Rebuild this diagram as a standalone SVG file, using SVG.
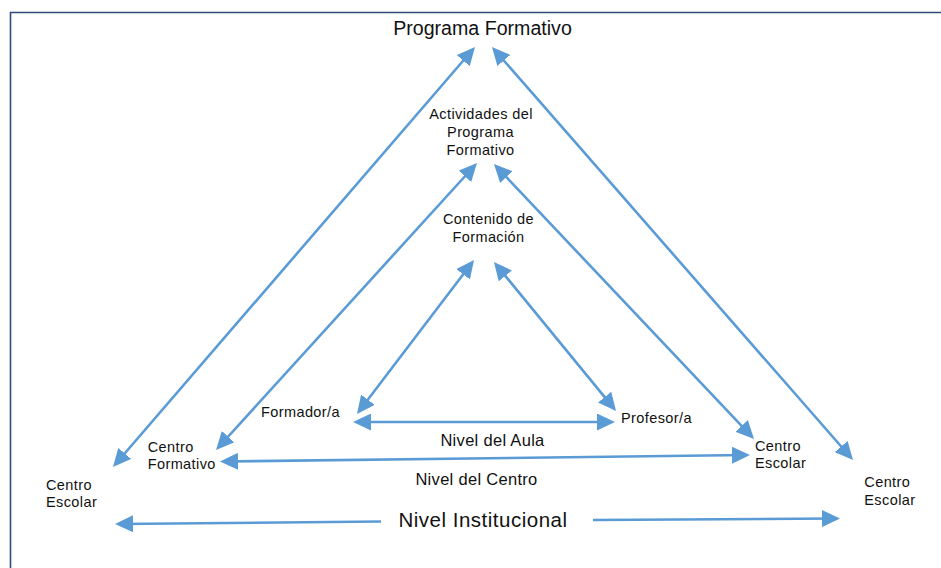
<svg xmlns="http://www.w3.org/2000/svg" width="941" height="568" viewBox="0 0 941 568">
<style>
text{font-family:"Liberation Sans",Arial,sans-serif;fill:#111;}
.s{font-size:14.5px;letter-spacing:0.4px;}
.m{font-size:16.5px;letter-spacing:0.3px;}
.c{text-anchor:middle;}
.ln{stroke:#5b9bd5;stroke-width:2.6;fill:none;}
</style>
<defs>
<marker id="ah" viewBox="0 0 18 17" refX="14" refY="8.5" markerWidth="18" markerHeight="17" markerUnits="userSpaceOnUse" orient="auto-start-reverse">
<path d="M0,0 L18,8.5 L0,17 z" fill="#5b9bd5"/>
</marker>
</defs>
<rect width="941" height="568" fill="#fff"/>
<polyline points="10.5,568 10.5,12.5 941,12.5" fill="none" stroke="#2f4b7c" stroke-width="1.6"/>
<g id="connectors">
<line class="ln" x1="472.4" y1="50" x2="115.6" y2="464" marker-start="url(#ah)" marker-end="url(#ah)"/>
<line class="ln" x1="494.6" y1="50" x2="850.4" y2="457" marker-start="url(#ah)" marker-end="url(#ah)"/>
<line class="ln" x1="474.3" y1="166" x2="218.7" y2="447" marker-start="url(#ah)" marker-end="url(#ah)"/>
<line class="ln" x1="496.7" y1="166.9" x2="751.3" y2="436.1" marker-start="url(#ah)" marker-end="url(#ah)"/>
<line class="ln" x1="471.6" y1="263.2" x2="359.4" y2="410.8" marker-start="url(#ah)" marker-end="url(#ah)"/>
<line class="ln" x1="496.5" y1="265.1" x2="613.5" y2="407.9" marker-start="url(#ah)" marker-end="url(#ah)"/>
<line class="ln" x1="357" y1="422" x2="611" y2="422" marker-start="url(#ah)" marker-end="url(#ah)"/>
<line class="ln" x1="224" y1="461.5" x2="746" y2="455" marker-start="url(#ah)" marker-end="url(#ah)"/>
<line class="ln" x1="381" y1="521.5" x2="119" y2="524" marker-end="url(#ah)"/>
<line class="ln" x1="593" y1="520" x2="836" y2="518.5" marker-end="url(#ah)"/>
</g>
<g id="programa-formativo"><text x="482.5" y="35" class="c" style="font-size:19.6px">Programa Formativo</text></g>
<g id="actividades"><text class="s c" x="481" y="119">Actividades del</text><text class="s c" x="480.5" y="137">Programa</text><text class="s c" x="480.5" y="155">Formativo</text></g>
<g id="contenido"><text class="s c" x="488.5" y="224">Contenido de</text><text class="s c" x="488.5" y="241.7">Formación</text></g>
<g id="formador"><text class="s" x="261" y="417.3">Formador/a</text></g>
<g id="profesor"><text class="s" x="621" y="422.7">Profesor/a</text></g>
<g id="nivel-aula"><text class="m c" x="492.5" y="445.7">Nivel del Aula</text></g>
<g id="centro-formativo"><text class="s" x="147.7" y="451.7">Centro</text><text class="s" x="147.7" y="469.2">Formativo</text></g>
<g id="centro-escolar-1"><text class="s" x="755" y="450.7">Centro</text><text class="s" x="755" y="468.3">Escolar</text></g>
<g id="nivel-centro"><text class="m c" x="476.5" y="485">Nivel del Centro</text></g>
<g id="centro-escolar-2"><text class="s" x="46" y="490">Centro</text><text class="s" x="46" y="507.3">Escolar</text></g>
<g id="centro-escolar-3"><text class="s" x="864.3" y="487.3">Centro</text><text class="s" x="864.3" y="505">Escolar</text></g>
<g id="nivel-institucional"><text class="c" x="483" y="527" style="font-size:20.5px;letter-spacing:0.5px">Nivel Institucional</text></g>
</svg>
